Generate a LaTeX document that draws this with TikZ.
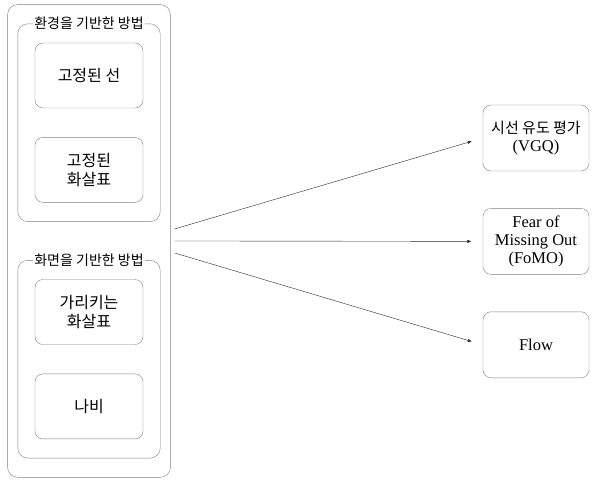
\documentclass[tikz,border=0pt]{standalone}
\usepackage{fontspec}
\setmainfont{Liberation Serif}
\newfontfamily\kr{Noto Sans CJK KR}
\usetikzlibrary{
        arrows,
        fit,
        positioning
    }
\definecolor{framegray}{gray}{0.5}
\tikzset{>=stealth',auto,node distance=29pt}
\tikzset{
    box/.style={draw=framegray, rounded corners=8pt, minimum width=108pt,
        minimum height=65pt, align=center, inner sep=2pt,
        font=\kr\fontsize{16}{19}\selectfont},
    group/.style={draw=framegray, rounded corners=10pt, inner xsep=17pt, inner ysep=19pt},
    grouplabel/.style={fill=white, inner sep=1pt, font=\kr\fontsize{14}{15}\selectfont},
    target/.style={box, minimum width=106pt, minimum height=66pt,
        font=\fontsize{16.5}{18}\selectfont}
}

\begin{document}
\begin{tikzpicture}[x=1pt,y=-1pt]
                \useasboundingbox (0,0) rectangle (599,482);
                % left column
                \node[box] (fixline)  at (89,75.5)      {고정된 선};
                \node[box] (fixarrow) [below=of fixline] {고정된\\화살표};
                \node[box] (pointer)  at (89,312)       {가리키는\\화살표};
                \node[box] (butterfly) [below=of pointer] {나비};
                \node[group, fit=(fixline)(fixarrow)] (env) {};
                \node[group, fit=(pointer)(butterfly)] (screen) {};
                \node[grouplabel] (envlabel) at (env.north) {환경을 기반한 방법};
                \node[grouplabel] (screenlabel) at (screen.north) {화면을 기반한 방법};
                \node[group, inner xsep=10pt, inner ysep=19pt, fit=(env)(screen)] (methods) {};
                % right column
                \node[target] (vgq) at (536,138) {{\kr\fontsize{15}{18}\selectfont 시선 유도 평가}\\(VGQ)};
                \node[target] (fomo) [below=37pt of vgq] {Fear of\\Missing Out\\(FoMO)};
                \node[target] (flow) [below=37pt of fomo] {Flow};
                \path[->, black!85, shorten >=12pt]
                    ([xshift=4pt,yshift=12pt]methods.east)  edge (vgq.west)
                    ([xshift=4pt]methods.east)  edge (fomo.west)
                    ([xshift=4pt,yshift=-12pt]methods.east)  edge (flow.west)
                ;
            \end{tikzpicture}
\end{document}
